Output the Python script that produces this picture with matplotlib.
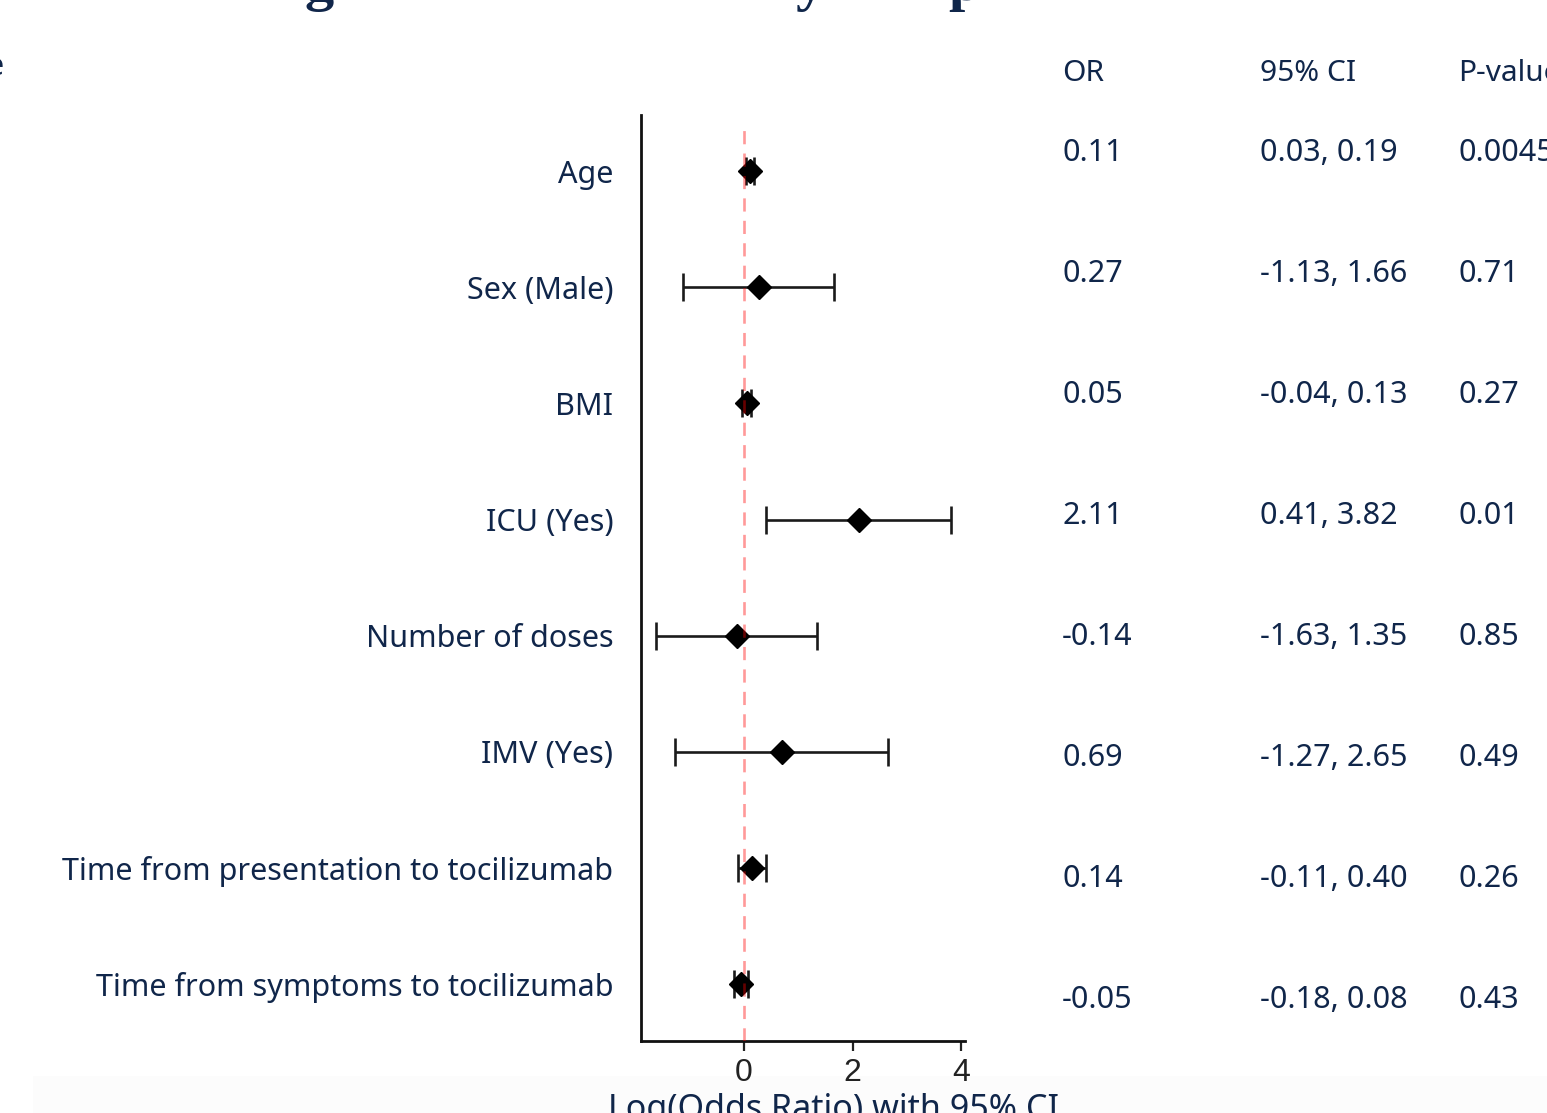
import numpy as np
import matplotlib.pyplot as plt
from matplotlib.patches import Rectangle

# data
variables = ['Age', 'Sex (Male)', 'BMI', 'ICU (Yes)', 'Number of doses', 'IMV (Yes)',
             'Time from presentation to tocilizumab', 'Time from symptoms to tocilizumab']
log_or = [0.11, 0.27, 0.05, 2.11, -0.14, 0.69, 0.14, -0.05]
ci_low = [0.03, -1.13, -0.04, 0.41, -1.63, -1.27, -0.11, -0.18]
ci_high = [0.19, 1.66, 0.13, 3.82, 1.35, 2.65, 0.40, 0.08]
p_values = ['0.0045', '0.71', '0.27', '0.01', '0.85', '0.49', '0.26', '0.43']
headers = ['OR', '95% CI', 'P-value']
xticks = [0, 2, 4]

navy = '#10264a'
W, H = 1547, 1113

fig = plt.figure(figsize=(W/100, H/100), dpi=100)
fig.patch.set_facecolor('white')

# faint grey band at the bottom of the slide (behind everything)
fig.patches.append(Rectangle((33/W, 0), 1 - 33/W, 37/H, transform=fig.transFigure,
                             facecolor='#fcfcfc', edgecolor='none', zorder=-10))

ax = fig.add_axes([641/W, 1 - 1041/H, (965-641)/W, (1041-115)/H])
ax.set_facecolor('none')
ypos = np.arange(1, len(variables) + 1)
lo = np.array(log_or) - np.array(ci_low)
hi = np.array(ci_high) - np.array(log_or)
ax.errorbar(log_or, ypos, xerr=[lo, hi], fmt='D', color='black', ms=12,
            ecolor='#1a1a1a', elinewidth=1.9, capsize=10, capthick=1.9, zorder=3)
ax.axvline(0, color='red', alpha=0.4, lw=1.9, ls=(0, (5, 3.5)), ymax=0.989, zorder=4)

ax.set_xlim(-1.9, 4.07)
ax.set_ylim(8.49, 0.517)
ax.set_xticks(xticks)
ax.set_xticklabels([str(t) for t in xticks], family='Liberation Sans', fontstretch='condensed',
                   fontsize=23, color='#222222')
ax.tick_params(axis='x', length=7, width=1.6, pad=5, color='#222222')
ax.set_yticks(ypos)
ax.set_yticklabels(variables, family='Noto Sans', fontsize=22, color=navy)
ax.tick_params(axis='y', length=0, pad=20)
for s in ['top', 'right']:
    ax.spines[s].set_visible(False)
for s in ['left', 'bottom']:
    ax.spines[s].set_linewidth(2.0)
    ax.spines[s].set_color('#111111')

# table to the right
col_x = [1062, 1260, 1458]
for x, h in zip(col_x, headers):
    fig.text(x/W, 1 - 81/H, h, family='Noto Sans', fontsize=21.5, color=navy, va='baseline')
for i in range(len(variables)):
    yb = 1 - (161 + 121*i)/H
    ci_txt = f'{ci_low[i]:.2f}, {ci_high[i]:.2f}'
    for x, t in zip(col_x, [f'{log_or[i]:.2f}', ci_txt, p_values[i]]):
        fig.text(x/W, yb, t, family='Noto Sans', fontsize=22, color=navy, va='baseline')

# x label (cut off by the slide edge)
fig.text(833/W, 1 - 1093/H, 'Log(Odds Ratio) with 95% CI', family='Noto Sans',
         fontsize=24.5, color=navy, ha='center', va='top')

# fragments of the slide title above
for x, ch in [(305, 'g'), (795, 'y'), (948, 'p')]:
    fig.text(x/W, 1.0, ch, family='Liberation Serif', fontsize=42, fontweight='bold',
             color=navy, va='baseline')
fig.text(4/W, 1 - 75/H, 'e', family='Noto Sans', fontsize=22, color=navy, ha='right', va='baseline')

fig.savefig('out.png', dpi=100)
